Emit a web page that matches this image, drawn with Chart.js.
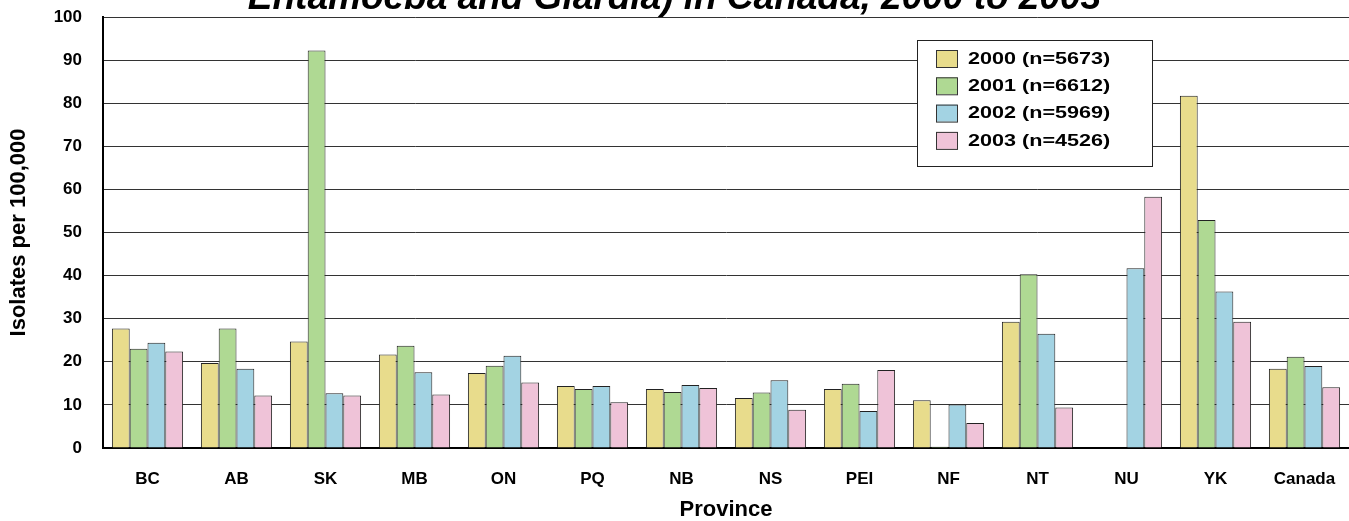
<!DOCTYPE html>
<html>
<head>
<meta charset="utf-8">
<script src="https://cdn.jsdelivr.net/npm/chart.js@4.4.1/dist/chart.umd.min.js"></script>
<style>
  html, body { margin: 0; padding: 0; background: #fff; }
  #wrap { width: 1349px; height: 521px; overflow: hidden; }
  #chart { display: block; margin-top: -20px; }
</style>
</head>
<body>
<div id="wrap"><canvas id="chart" width="1349" height="541"></canvas></div>
<script>
const provinces = ['BC', 'AB', 'SK', 'MB', 'ON', 'PQ', 'NB', 'NS', 'PEI', 'NF', 'NT', 'NU', 'YK', 'Canada'];
const seriesLabels = ['2000 (n=5673)', '2001 (n=6612)', '2002 (n=5969)', '2003 (n=4526)'];
const rates2000 = [27.7, 19.7, 24.7, 21.7, 17.4, 14.4, 13.7, 11.6, 13.7, 11.1, 29.3, 0, 81.7, 18.4];
const rates2001 = [23.0, 27.7, 92.2, 23.7, 19.1, 13.7, 13.0, 12.9, 14.9, 0.3, 40.3, 0, 52.9, 21.2];
const rates2002 = [24.4, 18.4, 12.7, 17.6, 21.4, 14.4, 14.6, 15.7, 8.6, 10.1, 26.5, 41.7, 36.3, 19.0];
const rates2003 = [22.4, 12.2, 12.2, 12.4, 15.2, 10.6, 13.9, 8.9, 18.1, 5.8, 9.4, 58.3, 29.3, 14.1];
const yTicks = [0, 10, 20, 30, 40, 50, 60, 70, 80, 90, 100];

const colors = ['#e8dc8c', '#afd993', '#a3d3e3', '#efc3d8'];
const allRates = [rates2000, rates2001, rates2002, rates2003];
const fontFamily = '"Liberation Sans", Arial, sans-serif';

// legend box drawn inside the plot, like the original
const boxLegend = {
    id: 'boxLegend',
    afterDraw(chart) {
        const ctx = chart.ctx;
        const area = chart.chartArea;
        const x = 917, y = area.top + 23, w = 235, h = 126;
        ctx.save();
        ctx.fillStyle = '#fff';
        ctx.fillRect(x, y, w, h);
        ctx.strokeStyle = '#222';
        ctx.lineWidth = 1;
        ctx.strokeRect(x + 0.5, y + 0.5, w, h);
        ctx.font = 'bold 17px ' + fontFamily;
        ctx.textBaseline = 'middle';
        chart.data.datasets.forEach((ds, i) => {
            const rowY = y + 18 + i * 27.3;
            ctx.fillStyle = ds.backgroundColor;
            ctx.fillRect(x + 19, rowY - 8, 21, 17);
            ctx.strokeStyle = '#333';
            ctx.strokeRect(x + 19.5, rowY - 7.5, 21, 17);
            ctx.fillStyle = '#000';
            // the original legend text is set wide
            ctx.save();
            ctx.translate(x + 51, rowY + 1);
            ctx.scale(1.27, 1);
            ctx.fillText(ds.label, 0, 0);
            ctx.restore();
        });
        ctx.restore();
    }
};

const ctx = document.getElementById('chart').getContext('2d');
new Chart(ctx, {
    type: 'bar',
    data: {
        labels: provinces,
        datasets: seriesLabels.map((label, i) => ({
            label: label,
            data: allRates[i],
            backgroundColor: colors[i],
            borderColor: '#222',
            borderWidth: 1,
            categoryPercentage: 0.8,
            barPercentage: 1.0
        }))
    },
    options: {
        responsive: false,
        animation: false,
        layout: { padding: 0 },
        scales: {
            y: {
                min: 0,
                max: 100,
                afterBuildTicks: (scale) => { scale.ticks = yTicks.map(v => ({ value: v })); },
                afterFit: (scale) => {
                    scale.width = 103;
                    scale.paddingTop = 0;
                    scale.paddingBottom = 0;
                },
                ticks: {
                    color: '#000',
                    padding: 21,
                    font: { family: fontFamily, size: 17, weight: 'bold' }
                },
                grid: { color: '#333', lineWidth: 1, drawTicks: false },
                border: { color: '#000', width: 2 },
                title: {
                    display: true,
                    text: 'Isolates per 100,000',
                    color: '#000',
                    padding: { top: 6, bottom: 0 },
                    font: { family: fontFamily, size: 22, weight: 'bold' }
                }
            },
            x: {
                afterFit: (scale) => {
                    scale.height = 73;
                    scale.paddingLeft = 0;
                    scale.paddingRight = 0;
                },
                ticks: {
                    color: '#000',
                    padding: 21,
                    font: { family: fontFamily, size: 17, weight: 'bold' }
                },
                grid: { display: false, drawTicks: false },
                border: { color: '#000', width: 2 },
                title: {
                    display: true,
                    text: 'Province',
                    color: '#000',
                    padding: { top: 10, bottom: 0 },
                    font: { family: fontFamily, size: 22, weight: 'bold', lineHeight: 1 }
                }
            }
        },
        plugins: {
            legend: { display: false },
            tooltip: { enabled: false },
            title: {
                display: true,
                text: 'Entamoeba and Giardia) in Canada, 2000 to 2003',
                color: '#000',
                padding: { top: 0, bottom: 0 },
                font: { family: fontFamily, size: 37, weight: 'bold', style: 'italic', lineHeight: 1 }
            }
        }
    },
    plugins: [boxLegend]
});
</script>
</body>
</html>
